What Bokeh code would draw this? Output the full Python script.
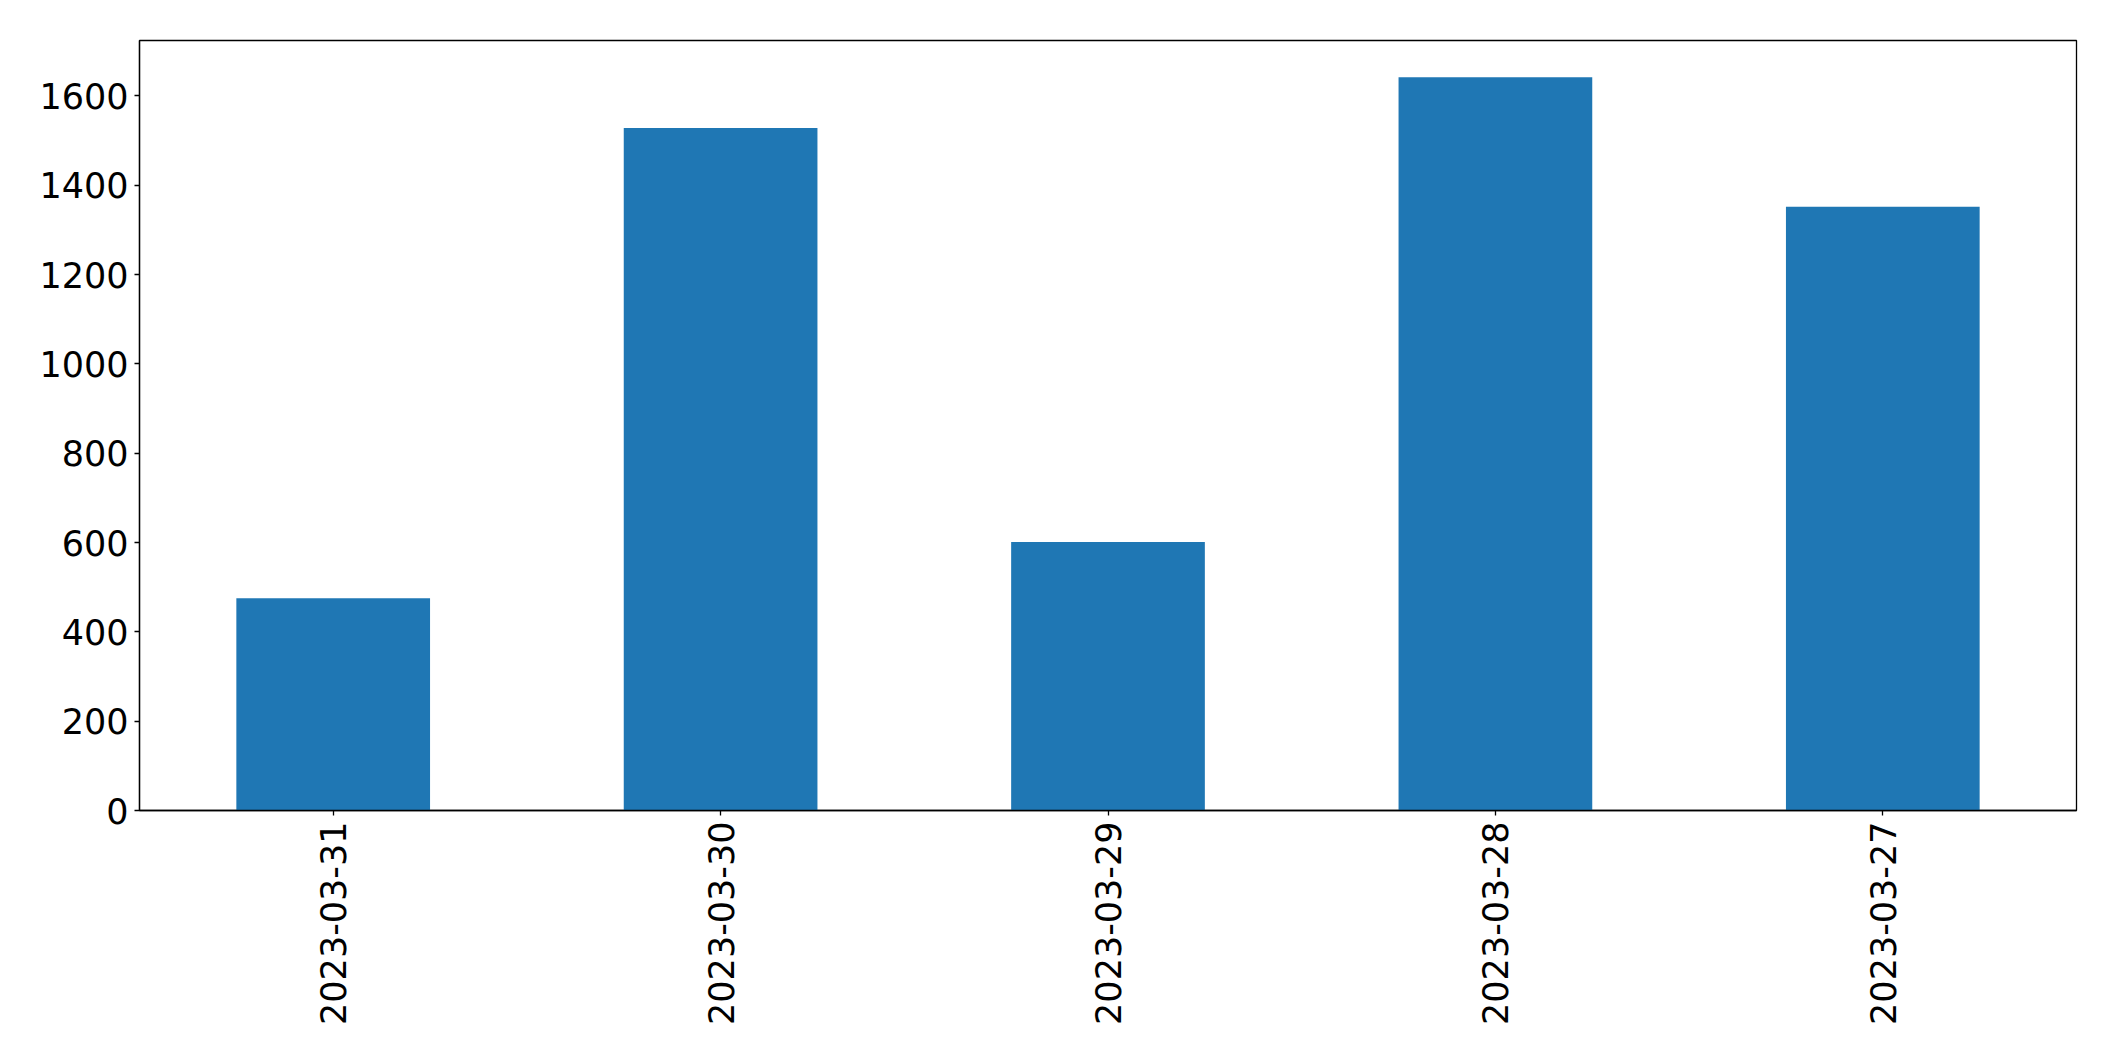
import math
from bokeh.plotting import figure
from bokeh.models import FactorRange, Range1d, FixedTicker
from bokeh.embed import file_html
from bokeh.resources import INLINE

dates = ["2023-03-31", "2023-03-30", "2023-03-29", "2023-03-28", "2023-03-27"]
values = [475, 1528, 601, 1642, 1352]
y_ticks = [0, 200, 400, 600, 800, 1000, 1200, 1400, 1600]

p = figure(
    x_range=FactorRange(factors=dates, range_padding=0),
    y_range=Range1d(0, max(values) * 1.05),
    width=2099, height=1045,
    output_backend="svg", toolbar_location=None,
    min_border_left=139, min_border_right=23, min_border_top=40, min_border_bottom=235,
)
p.vbar(x=dates, top=values, width=0.5, fill_color="#1f77b4", line_color=None)

p.xgrid.visible = False
p.ygrid.visible = False
p.outline_line_color = "black"
p.outline_line_width = 1.3
p.background_fill_color = "white"
p.border_fill_color = "white"

p.yaxis.ticker = FixedTicker(ticks=y_ticks)
p.yaxis.minor_tick_line_color = None
for ax in (p.xaxis[0], p.yaxis[0]):
    ax.major_label_text_font = "DejaVu Sans"
    ax.major_label_text_font_size = "35px"
    ax.major_label_text_color = "black"
    ax.axis_line_color = "black"
    ax.axis_line_width = 1.3
    ax.major_tick_line_color = "black"
    ax.major_tick_line_width = 1.3
    ax.major_tick_out = 5
    ax.major_tick_in = 0
    ax.major_label_standoff = 6
p.xaxis.major_label_orientation = math.pi / 2
p.xaxis.group_text_font_size = "0px"

open("out.html", "w").write(file_html(p, INLINE))
